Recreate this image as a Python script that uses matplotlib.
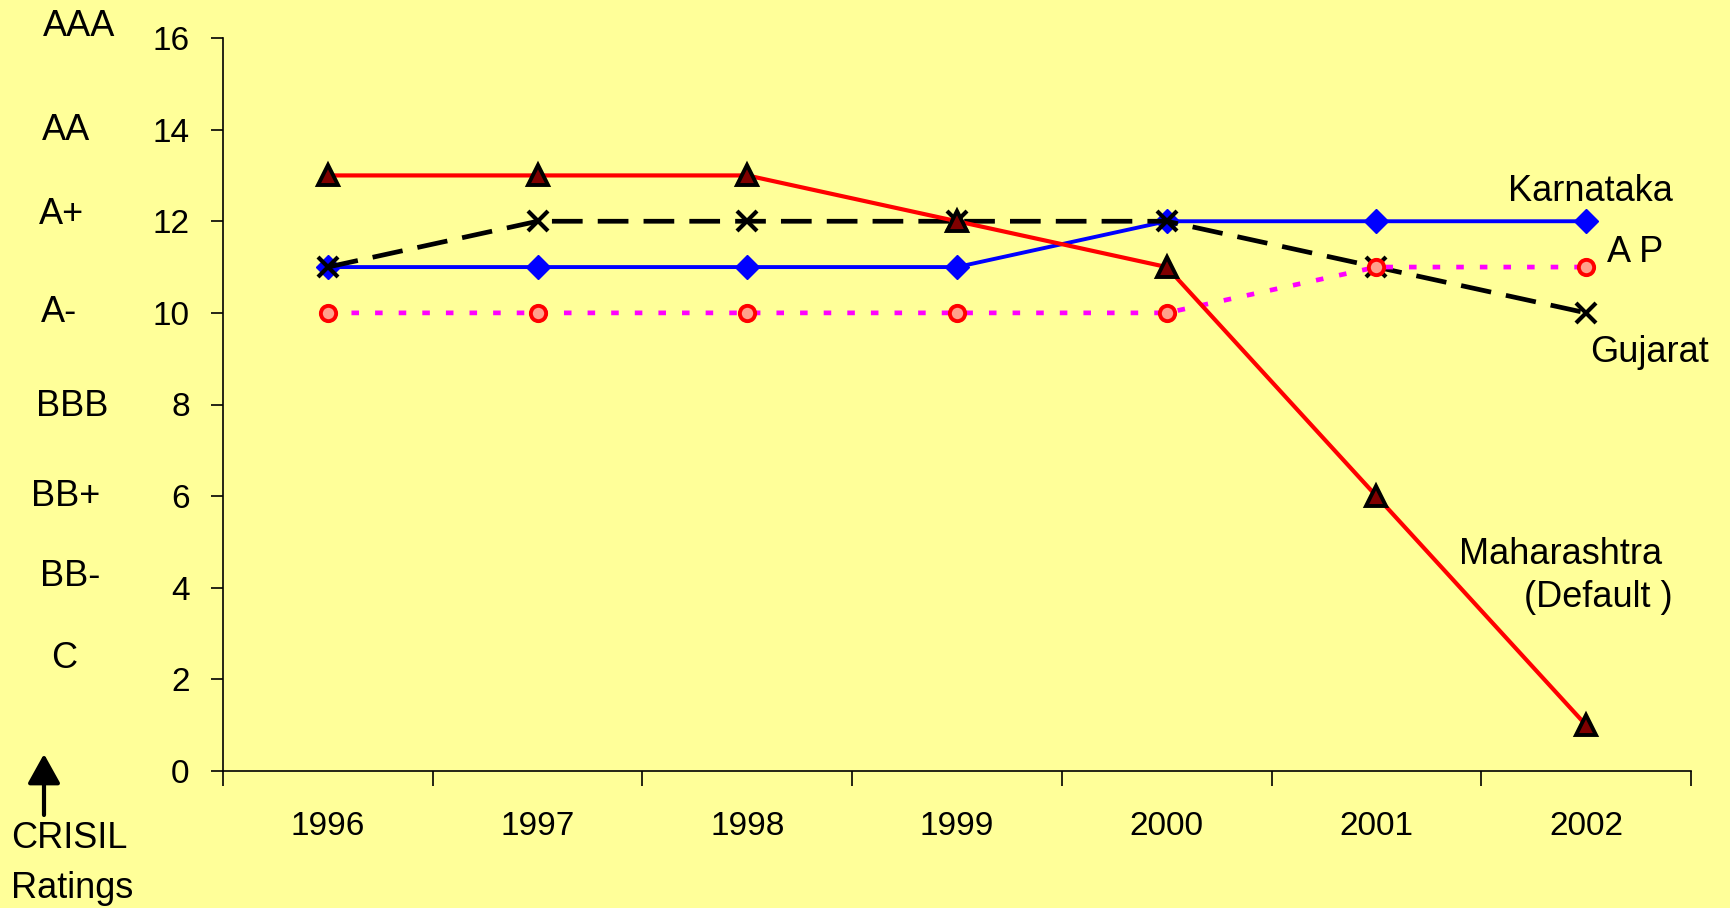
import numpy as np
import matplotlib
matplotlib.use("Agg")
import matplotlib.pyplot as plt

plt.rcParams["font.family"] = ["Liberation Sans", "DejaVu Sans"]

# ---- data ----
years = ["1996", "1997", "1998", "1999", "2000", "2001", "2002"]
maharashtra = [13, 13, 13, 12, 11, 6, 1]
gujarat = [11, 12, 12, 12, 12, 11, 10]
karnataka = [11, 11, 11, 11, 12, 12, 12]
ap = [10, 10, 10, 10, 10, 11, 11]
yticks = [0, 2, 4, 6, 8, 10, 12, 14, 16]
ratings = ["AAA", "AA", "A+", "A-", "BBB", "BB+", "BB-", "C"]

W, H = 1731, 908
BG = "#FFFF99"

fig = plt.figure(figsize=(W / 100, H / 100), dpi=100, facecolor=BG)
ax = fig.add_axes([223 / W, 1 - 771 / H, (1691 - 223) / W, (771 - 38) / H])
ax.set_facecolor(BG)

x = np.arange(len(years))

ax.plot(x, karnataka, color="#0000FF", lw=2.8, marker="D", ms=12,
        mfc="#0000FF", mec="#0000FF", zorder=3)
ax.plot(x, gujarat, color="black", lw=3.4, dashes=(6.5, 3.2), marker="x",
        ms=14, mew=3, zorder=4)
ax.plot(x, ap, color="#FF00FF", lw=3.4, dashes=(1.6, 3.4), marker="o", ms=11,
        mfc="#FFA08C", mec="#FF0000", mew=2.8, zorder=5)
ax.plot(x, maharashtra, color="#FF0000", lw=3, marker="^", ms=15,
        mfc="#800000", mec="black", mew=2.8, zorder=6)

ax.set_xlim(-0.5, len(years) - 0.5)
ax.set_ylim(0, 16)

# category axis: ticks between categories, labels centred
ax.set_xticks(np.arange(-0.5, len(years)))
ax.set_xticklabels([])
ax.set_xticks(x, minor=True)
ax.set_xticklabels(years, minor=True, fontsize=24)
ax.tick_params(axis="x", which="major", length=11, width=1.2, direction="out")
ax.tick_params(axis="x", which="minor", length=0, pad=29)

ax.set_yticks(yticks)
ax.set_yticklabels([str(v) for v in yticks], fontsize=24)
ax.tick_params(axis="y", length=9, width=1.2, direction="out", pad=15)

for s in ["top", "right"]:
    ax.spines[s].set_visible(False)
for s in ["left", "bottom"]:
    ax.spines[s].set_linewidth(1.2)

# series labels
ax.text(6.02, 12.64, "Karnataka", fontsize=26, ha="center", va="center")
ax.text(6.10, 11.31, "A P", fontsize=26, ha="left", va="center")
ax.text(6.30, 9.13, "Gujarat", fontsize=26, ha="center", va="center")
ax.text(6.36, 4.72, "Maharashtra", fontsize=26, ha="right", va="center")
ax.text(6.41, 3.78, "(Default )", fontsize=26, ha="right", va="center")

# rating scale down the left side
rating_pos = [(79, 26), (66, 130), (61, 215), (59, 312),
              (72, 406), (66, 496), (70, 577), (64, 658)]
for lab, (px, py) in zip(ratings, rating_pos):
    fig.text(px / W, 1 - py / H, lab, fontsize=26, ha="center", va="center")

ax.annotate("", xy=(44, H - 754), xytext=(44, H - 815),
            xycoords="figure pixels", textcoords="figure pixels",
            arrowprops=dict(arrowstyle="-|>,head_length=0.9,head_width=0.5",
                            mutation_scale=20, lw=3, color="black",
                            shrinkA=0, shrinkB=0))
fig.text(11 / W, 1 - 839 / H, "CRISIL", fontsize=26, ha="left", va="center")
fig.text(11 / W, 1 - 889 / H, "Ratings", fontsize=26, ha="left", va="center")

fig.savefig("out.png", dpi=100, facecolor=BG)
